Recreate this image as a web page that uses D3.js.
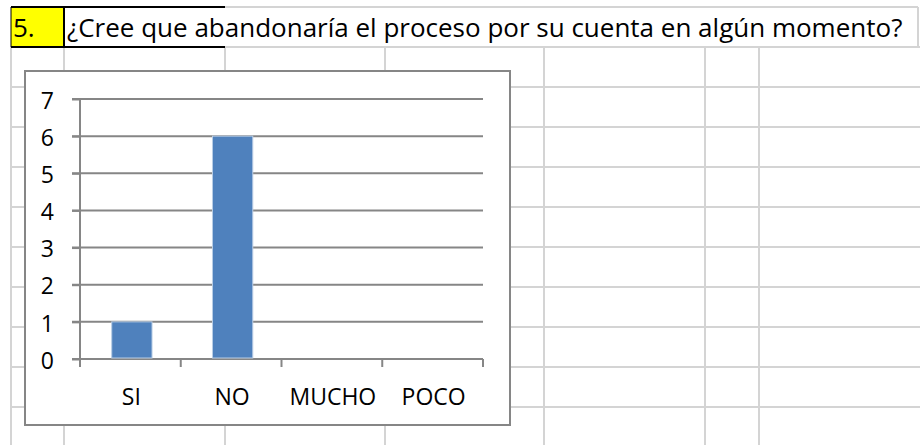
<!DOCTYPE html>
<html>
<head>
<meta charset="utf-8">
<script src="https://cdn.jsdelivr.net/npm/d3@7"></script>
<style>
  html, body { margin: 0; padding: 0; background: #fff; }
  svg { display: block; font-family: "Open Sans", "Noto Sans", sans-serif; }
</style>
</head>
<body>
<div id="chart"></div>
<script>
// data
const categories = ["SI", "NO", "MUCHO", "POCO"];
const values     = [1, 6, 0, 0];
const yTicks     = [0, 1, 2, 3, 4, 5, 6, 7];
const questionNo = "5.";
const question   = "¿Cree que abandonaría el proceso por su cuenta en algún momento?";

const WIDTH = 920, HEIGHT = 445;

// spreadsheet cell edges behind the chart
const colEdges = [11, 64, 225, 385, 544, 705, 759];
const rowEdges = [47, 87, 127, 167, 207, 247, 287, 327, 367, 407];

const svg = d3.select("#chart")
              .append("svg")
              .attr("width", WIDTH)
              .attr("height", HEIGHT);

svg.append("rect").attr("width", WIDTH).attr("height", HEIGHT).attr("fill", "#fff");

// sheet grid
const grid = svg.append("g").attr("stroke", "#d4d4d4").attr("stroke-width", 2);
grid.selectAll("line.row")
    .data(rowEdges)
    .enter()
    .append("line")
        .attr("x1", 11).attr("x2", WIDTH)
        .attr("y1", d => d).attr("y2", d => d);
grid.selectAll("line.col")
    .data(colEdges)
    .enter()
    .append("line")
        .attr("x1", d => d).attr("x2", d => d)
        .attr("y1", 47).attr("y2", HEIGHT);
grid.append("line").attr("x1", 225).attr("x2", 918).attr("y1", 7).attr("y2", 7);
grid.append("line").attr("x1", 918).attr("x2", 918).attr("y1", 7).attr("y2", 47);

// question row
svg.append("rect")
    .attr("x", 11).attr("y", 7).attr("width", 53).attr("height", 40)
    .attr("fill", "#ffff00");
const blk = svg.append("g").attr("stroke", "#000").attr("stroke-width", 2);
blk.append("line").attr("x1", 11).attr("x2", 225).attr("y1", 7).attr("y2", 7);
blk.append("line").attr("x1", 11).attr("x2", 225).attr("y1", 47).attr("y2", 47);
blk.append("line").attr("x1", 64).attr("x2", 64).attr("y1", 7).attr("y2", 47);
blk.append("line").attr("x1", 11).attr("x2", 11).attr("y1", 7).attr("y2", 47).attr("stroke-width", 1);

svg.append("text")
    .attr("x", 13).attr("y", 37)
    .attr("font-size", 26)
    .attr("fill", "#000")
    .text(questionNo);
svg.append("text")
    .attr("x", 67).attr("y", 37)
    .attr("font-size", 26)
    .attr("fill", "#000")
    .text(question);

// chart area
svg.append("rect")
    .attr("x", 25).attr("y", 71).attr("width", 485).attr("height", 354)
    .attr("fill", "#fff")
    .attr("stroke", "#868686")
    .attr("stroke-width", 2);

const x = d3.scaleBand()
            .domain(categories)
            .range([80, 483])
            .paddingInner(0.6)
            .paddingOuter(0.3);

const y = d3.scaleLinear()
            .domain([0, 7])
            .range([359, 99]);

// horizontal gridlines
svg.append("g")
    .selectAll("line")
    .data(yTicks)
    .enter()
    .append("line")
        .attr("x1", 72).attr("x2", 483)
        .attr("y1", d => y(d)).attr("y2", d => y(d))
        .attr("stroke", "#868686")
        .attr("stroke-width", 2);

// y axis
const yAxis = svg.append("g")
    .attr("transform", "translate(80,0)")
    .call(d3.axisLeft(y).tickValues(yTicks).tickFormat(d3.format("d")).tickSize(8).tickPadding(18));
yAxis.select(".domain").remove();
yAxis.selectAll(".tick line").attr("stroke", "#868686").attr("stroke-width", 2);
yAxis.selectAll(".tick text")
    .attr("font-family", "\"Open Sans\", \"Noto Sans\", sans-serif")
    .attr("font-size", 23)
    .attr("fill", "#000")
    .attr("dy", "0.4em");
svg.append("line")
    .attr("x1", 80).attr("x2", 80)
    .attr("y1", y(7)).attr("y2", y(0) + 8)
    .attr("stroke", "#868686").attr("stroke-width", 2);

// x axis: ticks sit on the band edges
const edges = categories.map(c => x(c) - x.step() * x.paddingInner() / 2);
edges.push(x.range()[1]);
svg.append("g")
    .selectAll("line")
    .data(edges.slice(1))
    .enter()
    .append("line")
        .attr("x1", d => d).attr("x2", d => d)
        .attr("y1", y(0)).attr("y2", y(0) + 8)
        .attr("stroke", "#868686")
        .attr("stroke-width", 2);

svg.append("g")
    .selectAll("text")
    .data(categories)
    .enter()
    .append("text")
        .attr("x", d => x(d) + x.bandwidth() / 2 + 1)
        .attr("y", 405)
        .attr("text-anchor", "middle")
        .attr("font-size", 23)
        .attr("fill", "#000")
        .text(d => d);

// bars
svg.append("g")
    .selectAll("rect")
    .data(categories.map((c, i) => [c, values[i]]).filter(d => d[1] > 0))
    .enter()
    .append("rect")
        .attr("x", d => x(d[0]) + 1.5)
        .attr("y", d => y(d[1]))
        .attr("width", x.bandwidth())
        .attr("height", d => y(0) - y(d[1]) - 1)
        .attr("fill", "#4f81bd")
        .attr("stroke", "#b9cde5")
        .attr("stroke-width", 1);
</script>
</body>
</html>
